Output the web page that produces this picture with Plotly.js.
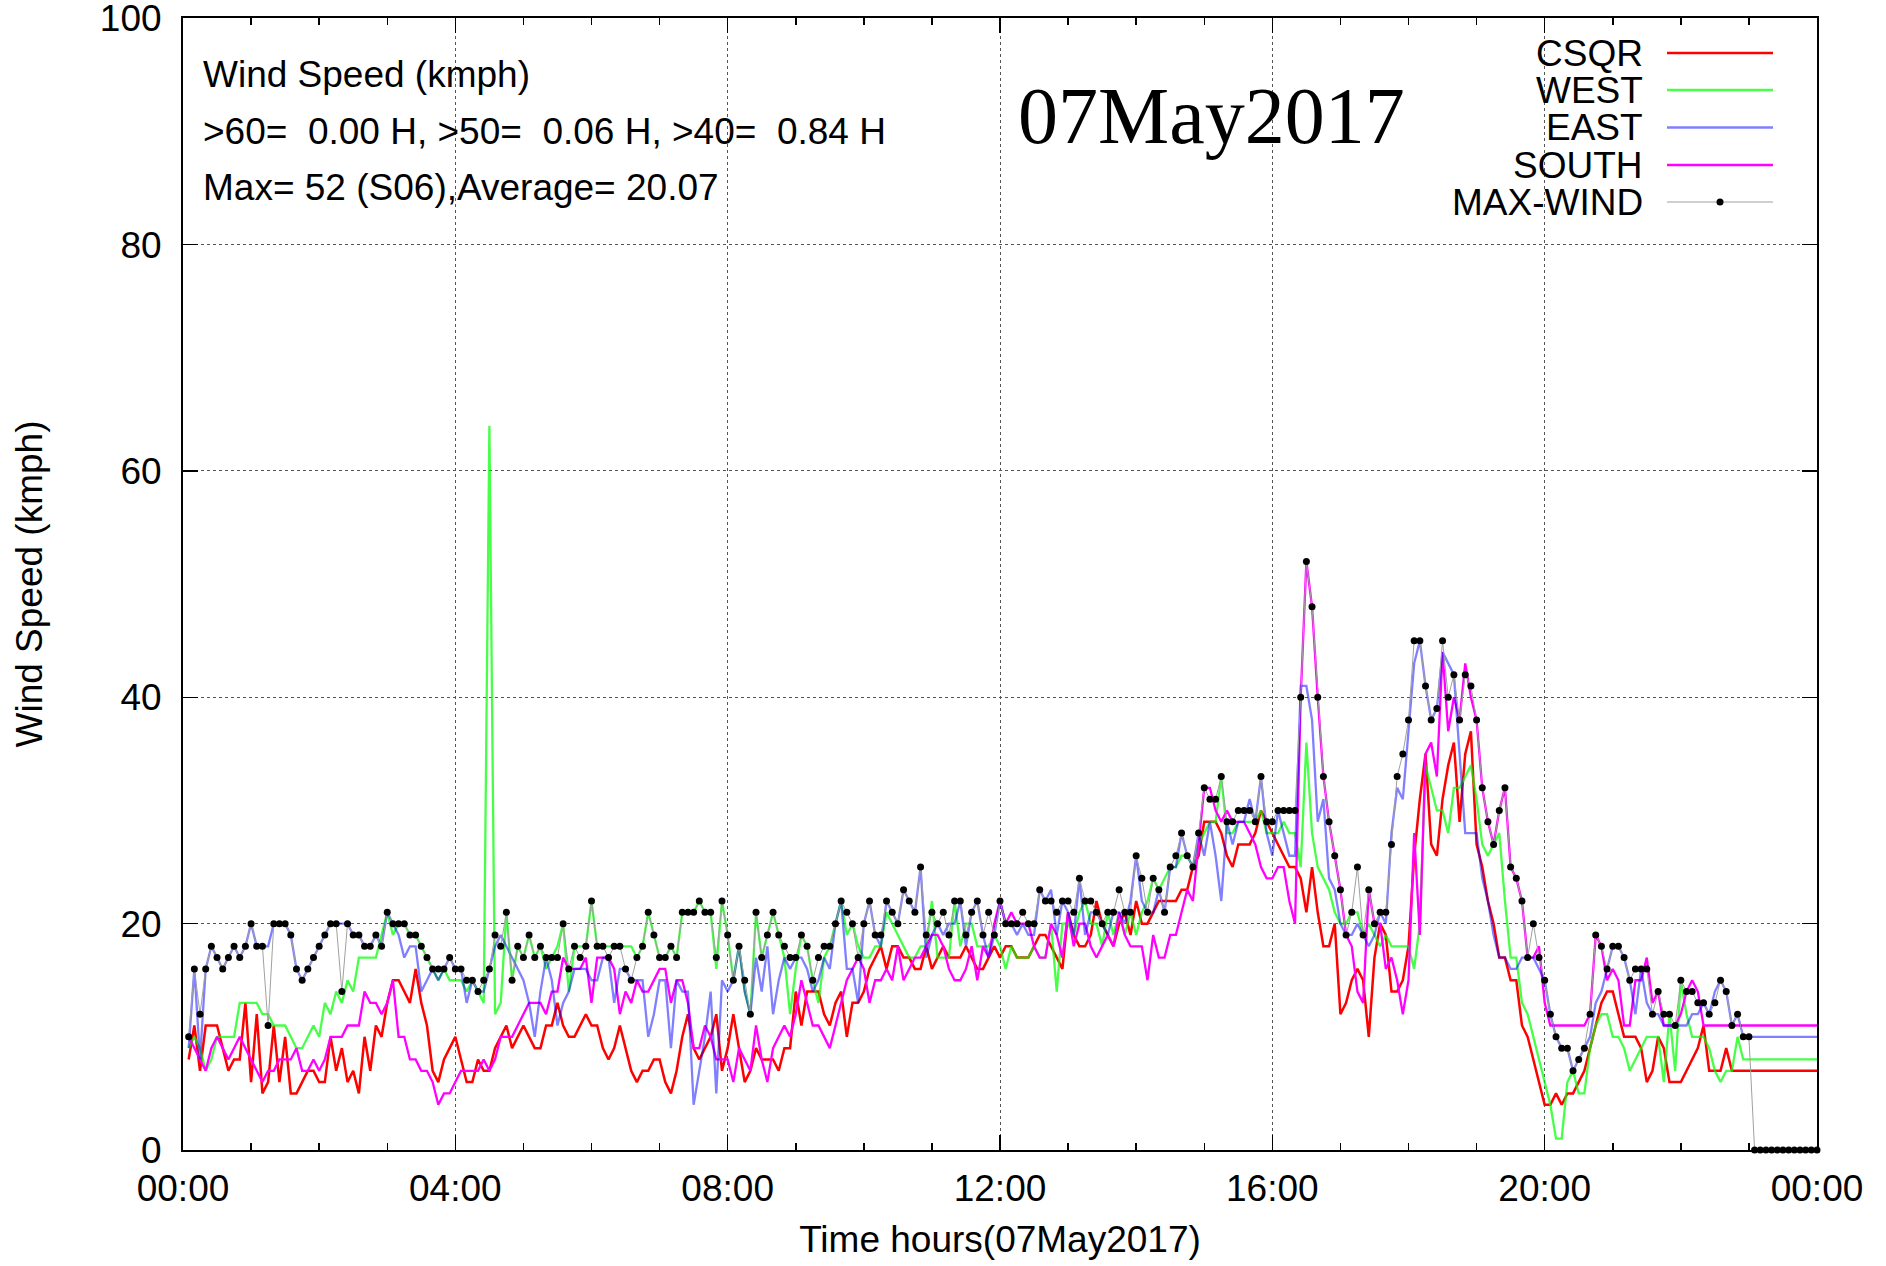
<!DOCTYPE html>
<html>
<head>
<meta charset="utf-8">
<script src="https://cdn.plot.ly/plotly-3.0.1.min.js"></script>
<style>html,body{margin:0;padding:0;background:#fff}#chart{width:1886px;height:1266px}</style>
</head>
<body>
<div id="chart"></div>
<script>
// ---- Data: one value per 5-minute sample, 00:05 .. 24:00 (rows = one hour each) ----
const dayLabel = '07May2017';
const dayStart = '2017-05-07';
const nextDay = '2017-05-08';
const stepMinutes = 5;

const csqr = [
 [8,11,7,11,11,11,9,7,8,8,13,6],
 [12,5,6,11,6,10,5,5,6,7,7,6],
 [6,10,7,9,6,7,5,10,7,11,10,13],
 [15,15,14,13,16,13,11,7,6,8,9,10],
 [8,6,6,8,7,7,9,10,11,9,10,11],
 [10,9,9,11,11,13,11,10,10,11,12,11],
 [11,9,8,9,11,9,7,6,7,7,8,8],
 [6,5,7,10,12,9,8,9,10,12,7,9],
 [12,9,6,7,9,8,8,8,7,9,9,14],
 [11,14,14,14,12,11,13,14,10,13,13,14],
 [16,17,18,16,18,18,17,17,16,16,18,16],
 [17,18,17,17,17,18,17,16,16,17,18,17],
 [18,18,17,17,17,18,19,19,18,17,16,21],
 [19,18,18,19,22,20,19,18,20,21,19,22],
 [20,20,21,22,22,22,22,23,23,25,26,29],
 [29,29,28,26,25,27,27,27,28,30,29,28],
 [27,26,25,25,24,21,25,21,18,18,20,12],
 [13,15,16,15,10,17,20,19,14,14,15,18],
 [26,31,35,27,26,31,34,36,29,35,37,27],
 [25,22,20,17,17,15,15,11,10,8,6,4],
 [4,5,4,5,5,6,7,9,11,13,14,14],
 [12,10,10,10,9,6,7,10,9,6,6,6],
 [7,8,9,11,7,7,7,9,7,7,7,7],
 [7,7,7,7,7,7,7,7,7,7,7,7]
].flat();

const west = [
 [9,10,9,7,8,10,10,10,10,13,13,13],
 [13,12,12,11,11,11,10,9,9,10,11,10],
 [13,12,14,13,15,14,17,17,17,17,19,21],
 [19,20,20,19,19,18,17,16,15,16,15,15],
 [15,14,15,14,13,64,12,13,21,15,18,17],
 [19,17,18,16,17,18,20,14,18,18,18,22],
 [18,18,18,18,18,18,18,17,18,21,19,17],
 [17,18,17,21,21,21,22,21,21,16,22,19],
 [15,18,14,12,21,17,19,21,19,17,12,16],
 [19,18,15,13,17,18,20,22,19,20,18,17],
 [17,18,18,21,20,19,18,17,17,18,18,22],
 [17,17,17,22,18,20,20,18,18,18,19,18],
 [16,18,17,17,17,18,17,17,20,14,20,20],
 [19,21,22,20,20,18,21,19,21,19,21,19],
 [21,22,24,23,24,25,25,26,26,25,27,28],
 [29,29,33,28,28,29,29,29,29,30,28,28],
 [28,29,28,28,25,36,28,25,24,23,21,20],
 [20,21,21,19,20,19,18,19,18,18,18,18],
 [16,20,34,32,30,30,28,32,32,33,34,31],
 [27,26,27,28,22,17,17,13,12,10,8,6],
 [4,1,1,6,7,5,5,9,11,12,12,10],
 [10,9,7,8,9,10,10,10,6,12,7,15],
 [12,10,10,10,9,7,6,7,7,10,8,8],
 [8,8,8,8,8,8,8,8,8,8,8,8]
].flat();

const east = [
 [9,16,8,16,18,17,16,17,18,17,18,20],
 [18,18,18,20,20,20,19,16,15,16,17,18],
 [19,20,20,20,20,19,19,18,18,19,18,21],
 [20,19,17,18,18,14,15,16,15,16,17,16],
 [16,13,15,14,14,16,18,19,18,17,16,15],
 [13,10,14,17,15,11,13,14,16,16,16,15],
 [15,17,17,13,16,16,15,15,15,10,12,15],
 [15,9,15,14,14,4,7,10,14,5,15,14],
 [15,18,14,12,17,14,18,12,15,17,16,17],
 [17,16,14,15,17,16,20,22,16,16,13,20],
 [22,19,18,22,21,20,23,22,21,25,17,19],
 [20,19,20,20,22,18,21,22,19,17,19,22],
 [20,20,19,20,19,19,23,22,23,19,22,21],
 [19,24,19,21,21,20,19,21,21,20,22,26],
 [22,21,21,23,21,25,25,28,26,25,28,26],
 [29,26,22,29,27,29,29,31,29,33,28,26],
 [30,28,26,26,41,41,38,29,31,24,23,20],
 [19,19,20,19,18,19,21,20,28,32,31,37],
 [43,45,41,38,39,44,43,42,35,28,28,28],
 [24,22,19,17,17,16,16,17,17,17,16,15],
 [12,10,9,9,7,8,9,10,13,14,16,18],
 [18,17,15,12,16,13,12,12,11,11,11,11],
 [11,12,12,13,12,14,15,14,11,12,10,10],
 [10,10,10,10,10,10,10,10,10,10,10,10]
].flat();

const south = [
 [10,9,8,7,9,10,9,8,9,10,9,8],
 [7,6,7,7,8,8,8,9,7,7,8,7],
 [8,10,10,10,11,11,11,14,13,13,12,13],
 [15,10,10,8,8,7,7,6,4,5,5,6],
 [7,7,7,7,8,7,8,10,10,10,11,12],
 [13,13,13,12,14,14,17,16,16,16,17,13],
 [17,17,17,16,12,14,13,15,14,14,15,16],
 [16,13,15,15,13,9,9,11,10,8,8,8],
 [6,9,8,7,11,8,6,9,10,11,10,12],
 [15,13,11,11,10,9,11,13,15,16,17,16],
 [13,15,15,16,15,18,15,16,17,17,18,19],
 [19,18,16,15,15,16,18,15,18,17,20,22],
 [20,21,20,20,20,18,17,17,20,19,17,21],
 [18,20,20,18,17,18,19,18,21,19,18,18],
 [18,15,19,17,17,19,19,21,23,22,27,32],
 [32,30,29,30,29,29,29,28,27,25,24,24],
 [25,25,22,20,40,52,48,40,33,29,26,23],
 [19,18,14,13,23,20,20,16,17,15,12,15],
 [28,19,35,36,33,44,37,40,38,43,40,38],
 [32,29,27,30,32,25,24,22,17,17,18,13],
 [11,11,11,11,11,11,11,12,19,18,15,16],
 [15,11,11,15,15,17,13,14,11,11,11,12],
 [14,15,14,11,11,11,11,11,11,11,11,11],
 [11,11,11,11,11,11,11,11,11,11,11,11]
].flat();

const maxWind = [
 [10,16,12,16,18,17,16,17,18,17,18,20],
 [18,18,11,20,20,20,19,16,15,16,17,18],
 [19,20,20,14,20,19,19,18,18,19,18,21],
 [20,20,20,19,19,18,17,16,16,16,17,16],
 [16,15,15,14,15,16,19,18,21,15,18,17],
 [19,17,18,17,17,17,20,16,18,17,18,22],
 [18,18,17,18,18,16,15,17,18,21,19,17],
 [17,18,17,21,21,21,22,21,21,17,22,19],
 [15,18,15,12,21,17,19,21,19,18,17,17],
 [19,18,15,17,18,18,20,22,21,20,17,20],
 [22,19,19,22,21,20,23,22,21,25,19,21],
 [20,21,19,22,22,19,21,22,19,21,19,22],
 [20,20,20,21,20,20,23,22,22,21,22,22],
 [21,24,22,22,21,20,21,21,23,21,21,26],
 [24,21,24,23,21,25,26,28,26,25,28,32],
 [31,31,33,29,29,30,30,30,29,33,29,29],
 [30,30,30,30,40,52,48,40,33,29,26,23],
 [19,21,25,19,23,20,21,21,27,33,35,38],
 [45,45,41,38,39,45,40,42,38,42,41,38],
 [32,29,27,30,32,25,24,22,17,20,17,15],
 [12,10,9,9,7,8,9,12,19,18,16,18],
 [18,17,15,16,16,16,12,14,12,12,11,15],
 [14,14,13,13,12,13,15,14,11,12,10,10],
 [0,0,0,0,0,0,0,0,0,0,0,0]
].flat();

const seriesNames = ['CSQR', 'WEST', 'EAST', 'SOUTH', 'MAX-WIND'];
const infoLines = [
  'Wind Speed (kmph)',
  '>60=\u00a0\u00a00.00 H, >50=\u00a0\u00a00.06 H, >40=\u00a0\u00a00.84 H',
  'Max= 52 (S06),Average= 20.07'
];
const yTickVals = [0, 20, 40, 60, 80, 100];

// ---- Sample times ----
function pad(n){ return (n < 10 ? '0' : '') + n; }
const times = csqr.map((_, k) => {
  const m = (k + 1) * stepMinutes;
  if (m >= 1440) return nextDay + ' ' + pad(Math.floor((m - 1440) / 60)) + ':' + pad((m - 1440) % 60);
  return dayStart + ' ' + pad(Math.floor(m / 60)) + ':' + pad(m % 60);
});

const FONT = '"Liberation Sans", Arial, Helvetica, sans-serif';
const SERIF = '"Liberation Serif", "Times New Roman", serif';
const colors = {
  CSQR: '#ff0000',
  WEST: 'rgba(0,255,0,0.72)',
  EAST: 'rgba(0,0,255,0.5)',
  SOUTH: '#ff00ff',
  MAX: '#a0a0a0'
};

const lineTrace = (name, y, color, w) => ({
  type: 'scatter', mode: 'lines', name: name, x: times, y: y,
  line: {color: color, width: w}, hoverinfo: 'skip'
});

const traces = [
  lineTrace('CSQR', csqr, colors.CSQR, 2.5),
  lineTrace('WEST', west, colors.WEST, 2.3),
  lineTrace('SOUTH', south, colors.SOUTH, 2.3),
  lineTrace('EAST', east, colors.EAST, 2.3),
  {
    type: 'scatter', mode: 'lines+markers', name: 'MAX-WIND', x: times, y: maxWind,
    line: {color: colors.MAX, width: 1},
    marker: {color: '#000', size: 7},
    cliponaxis: false, hoverinfo: 'skip'
  }
];

// ---- Layout ----
const plotL = 183, plotR = 1817, plotT = 18, plotB = 1150;
const W = 1886, H = 1266;
const px = x => (x - plotL) / (plotR - plotL);
const py = y => (plotB - y) / (plotB - plotT);

const annotations = [];
const shapes = [];
// info block
const infoY = [74.6, 131, 187.6];
infoLines.forEach((t, k) => annotations.push({
  xref: 'paper', yref: 'paper', x: px(201), y: py(infoY[k]),
  xanchor: 'left', yanchor: 'middle', showarrow: false, text: t,
  font: {family: FONT, size: 37, color: '#000'}
}));
// big date label
annotations.push({
  xref: 'paper', yref: 'paper', x: px(1211), y: py(116),
  xanchor: 'center', yanchor: 'middle', showarrow: false, text: dayLabel,
  font: {family: SERIF, size: 80, color: '#000'}
});
// custom gnuplot-style key (text on the left, sample on the right)
const keyY = [53, 90, 127.5, 165, 202];
const keyColors = [colors.CSQR, colors.WEST, colors.EAST, colors.SOUTH, colors.MAX];
seriesNames.forEach((n, k) => {
  annotations.push({
    xref: 'paper', yref: 'paper', x: px(1645), y: py(keyY[k]),
    xanchor: 'right', yanchor: 'middle', showarrow: false, text: n,
    font: {family: FONT, size: 37, color: '#000'}
  });
  shapes.push({
    type: 'line', xref: 'paper', yref: 'paper',
    x0: px(1667), x1: px(1773), y0: py(keyY[k]), y1: py(keyY[k]),
    line: {color: keyColors[k], width: k === 4 ? 1 : 2.3}
  });
});
shapes.push({
  type: 'circle', xref: 'paper', yref: 'paper', xsizemode: 'pixel', ysizemode: 'pixel',
  xanchor: px(1720), yanchor: py(keyY[4]), x0: -3.5, x1: 3.5, y0: -3.5, y1: 3.5,
  fillcolor: '#000', line: {color: '#000', width: 0}
});

const axisCommon = {
  showline: true, linecolor: '#000', linewidth: 2, mirror: 'ticks',
  ticks: 'inside', ticklen: 15, tickwidth: 1.5, tickcolor: '#000',
  showgrid: true, gridcolor: '#555', griddash: 'dot', gridwidth: 1,
  zeroline: false, tickfont: {family: FONT, size: 37, color: '#000'},
  ticklabeloverflow: 'allow'
};

const layout = {
  width: W, height: H,
  margin: {l: plotL, r: W - plotR, t: plotT, b: H - plotB, pad: 0},
  paper_bgcolor: '#fff', plot_bgcolor: '#fff',
  showlegend: false,
  font: {family: FONT, size: 37, color: '#000'},
  xaxis: Object.assign({}, axisCommon, {
    type: 'date',
    range: [dayStart + ' 00:00', nextDay + ' 00:00'],
    tick0: dayStart + ' 00:00', dtick: 4 * 3600000, tickformat: '%H:%M',
    ticklabelstandoff: 5,
    minor: {dtick: 3600000, ticks: 'inside', ticklen: 7, tickwidth: 1.5, tickcolor: '#000', showgrid: false},
    title: {text: 'Time hours(' + dayLabel + ')', font: {family: FONT, size: 37, color: '#000'}, standoff: 18}
  }),
  yaxis: Object.assign({}, axisCommon, {
    range: [0, 100.02], tickvals: yTickVals, ticktext: yTickVals.map(String),
    ticklabelstandoff: 12,
    title: {text: 'Wind Speed (kmph)', font: {family: FONT, size: 37, color: '#000'}, standoff: 46}
  }),
  annotations: annotations,
  shapes: shapes
};

Plotly.newPlot('chart', traces, layout, {staticPlot: true, displayModeBar: false});
</script>
</body>
</html>
